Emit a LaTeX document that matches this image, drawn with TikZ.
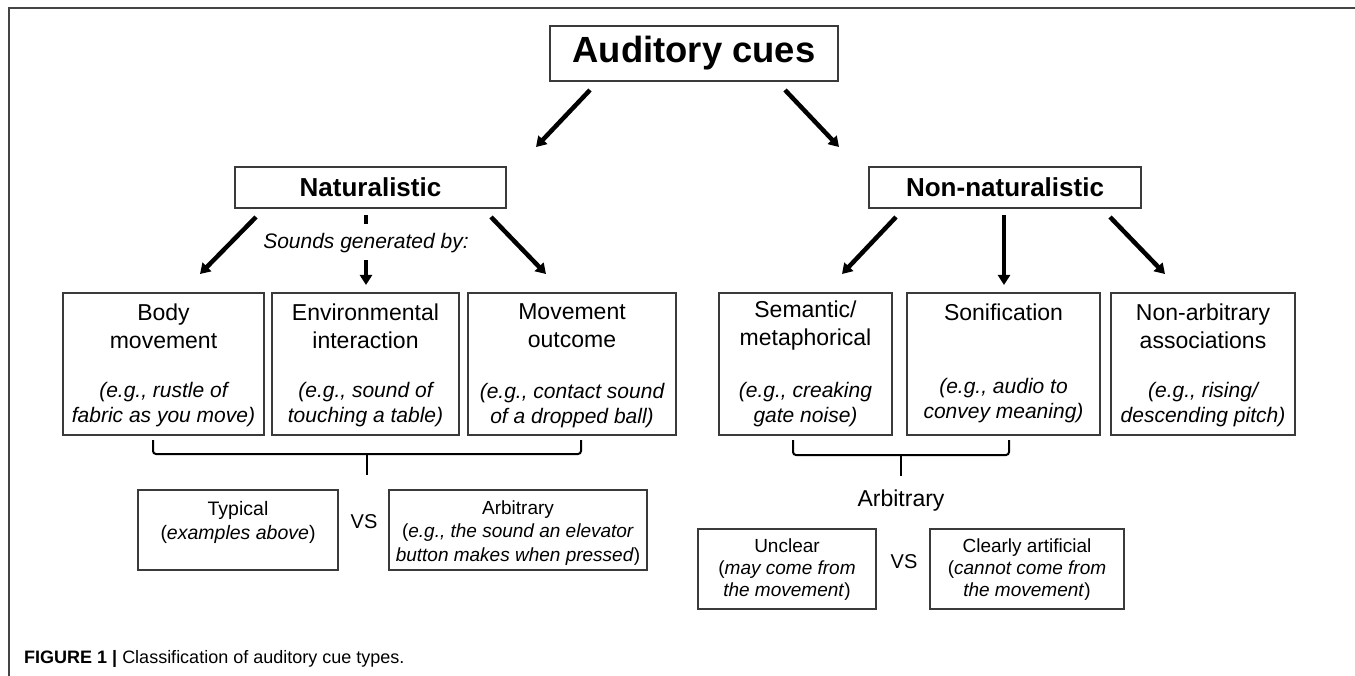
\documentclass[tikz,border=0pt]{standalone}
\usepackage{fontspec}
\setmainfont{Liberation Sans}
\usetikzlibrary{arrows.meta}
\definecolor{boxgray}{HTML}{3A3A3A}
\definecolor{framec}{HTML}{444444}
\begin{document}
\begin{tikzpicture}[x=1pt,y=-1pt,
  box/.style={draw=boxgray,line width=1.3pt,inner sep=0pt,fill=white},
  arr/.style={line width=4.5pt,-{Triangle[length=10pt,width=12pt]}},
  stub/.style={line width=4.5pt},
  brace/.style={line width=2pt,rounded corners=3pt},
  hd/.style={font=\fontsize{23pt}{28pt}\selectfont,align=center,inner sep=0pt},
  eg/.style={font=\fontsize{21pt}{25pt}\selectfont\itshape,align=center,inner sep=0pt},
  sm/.style={font=\fontsize{19.5pt}{24pt}\selectfont,align=center,inner sep=0pt},
  xs/.style={font=\fontsize{19pt}{22pt}\selectfont,align=center,inner sep=0pt},
  big/.style={font=\fontsize{26pt}{30pt}\selectfont\bfseries}]
\useasboundingbox (0,0) rectangle (1355,676);
\draw[framec,line width=2pt] (8.5,676) -- (8.5,8.5) -- (1355,8.5);

% top
\node[box,minimum width=288pt,minimum height=55pt,font=\fontsize{36.4pt}{40pt}\selectfont\bfseries] (ac) at (694,53.5) {Auditory cues};
\node[box,minimum width=271pt,minimum height=41pt,big] (nat) at (370.5,187.5) {Naturalistic};
\node[box,minimum width=272pt,minimum height=41pt,big] (non) at (1005,187.5) {Non-naturalistic};

% row boxes
\node[box,minimum width=201pt,minimum height=142pt] (body) at (163.5,364) {};
\node[box,minimum width=187pt,minimum height=142pt] (env) at (365.5,364) {};
\node[box,minimum width=208pt,minimum height=142pt] (mov) at (572,364) {};
\node[box,minimum width=173pt,minimum height=142pt] (sem) at (805.5,364) {};
\node[box,minimum width=193pt,minimum height=142pt] (son) at (1003.5,364) {};
\node[box,minimum width=184pt,minimum height=142pt] (nar) at (1203,364) {};

\node[hd] (bodyh) at (163.5,326) {Body\\movement};
\node[hd] (envh) at (365.5,326) {Environmental\\interaction};
\node[hd] (movh) at (572,326) {Movement\\outcome};
\node[hd] (semh) at (805.5,326) {Semantic/\\metaphorical};
\node[hd] (sonh) at (1003.5,312) {Sonification};
\node[hd] (narh) at (1203,326) {Non-arbitrary\\associations};

\node[eg] (bodye) at (163.5,405) {(e.g., rustle of\\fabric as you move)};
\node[eg] (enve) at (365.5,405) {(e.g., sound of\\touching a table)};
\node[eg] (move) at (572,406) {(e.g., contact sound\\of a dropped ball)};
\node[eg] (seme) at (805.5,405) {(e.g., creaking\\gate noise)};
\node[eg] (sone) at (1003.5,401) {(e.g., audio to\\convey meaning)};
\node[eg] (nare) at (1203,405) {(e.g., rising/\\descending pitch)};

% sounds generated by
\node[font=\fontsize{21pt}{25pt}\selectfont\itshape,inner sep=0pt] (sgb) at (366,243.5) {Sounds generated by:};

% arrows
\coordinate (a1s) at (590,90);   \coordinate (a1e) at (536,147);
\coordinate (a2s) at (785,90);   \coordinate (a2e) at (839,147);
\draw[arr] (a1s) -- (a1e);
\draw[arr] (a2s) -- (a2e);

\coordinate (n1s) at (256,217);  \coordinate (n1e) at (200,274);
\coordinate (n2s) at (366,215);  \coordinate (n2m) at (366,224);
\coordinate (n2t) at (366,260);  \coordinate (n2e) at (366,285);
\coordinate (n3s) at (491,217);  \coordinate (n3e) at (546,274);
\draw[arr] (n1s) -- (n1e);
\draw[stub] (n2s) -- (n2m);
\draw[arr] (n2t) -- (n2e);
\draw[arr] (n3s) -- (n3e);

\coordinate (m1s) at (896,217);  \coordinate (m1e) at (842,274);
\coordinate (m2s) at (1004,215); \coordinate (m2e) at (1004,285);
\coordinate (m3s) at (1110,217); \coordinate (m3e) at (1165,274);
\draw[arr] (m1s) -- (m1e);
\draw[arr] (m2s) -- (m2e);
\draw[arr] (m3s) -- (m3e);

% braces
\coordinate (bl1) at (153,440); \coordinate (bl2) at (581,440);
\coordinate (blm) at (367,454); \coordinate (blt) at (367,475);
\draw[brace] (bl1) -- (153,454) -- (581,454) -- (bl2);
\draw[line width=2pt] (blm) -- (blt);
\coordinate (br1) at (793,440); \coordinate (br2) at (1009,440);
\coordinate (brm) at (901,455); \coordinate (brt) at (901,476);
\draw[brace] (br1) -- (793,455) -- (1009,455) -- (br2);
\draw[line width=2pt] (brm) -- (brt);

% bottom left
\node[box,minimum width=200pt,minimum height=80pt] (typ) at (238,530) {};
\node[sm] (typt) at (238,522.5) {Typical\\(\textit{examples above})};
\node[font=\fontsize{20pt}{24pt}\selectfont,inner sep=0pt] (vs1) at (364,522) {VS};
\node[box,minimum width=258pt,minimum height=80pt] (arb) at (518,530) {};
\node[xs,font=\fontsize{19pt}{23.5pt}\selectfont] (arbt) at (518,533) {Arbitrary\\(\textit{e.g., the sound an elevator}\\\textit{button makes when pressed})};

% bottom right
\node[font=\fontsize{23pt}{26pt}\selectfont,inner sep=0pt] (arbl) at (901,501) {Arbitrary};
\node[box,minimum width=178pt,minimum height=80pt] (unc) at (787,569) {};
\node[xs] (unct) at (787,569.5) {Unclear\\(\textit{may come from}\\\textit{the movement})};
\node[font=\fontsize{20pt}{24pt}\selectfont,inner sep=0pt] (vs2) at (904,562) {VS};
\node[box,minimum width=194pt,minimum height=80pt] (clr) at (1027,569) {};
\node[xs] (clrt) at (1027,569.5) {Clearly artificial\\(\textit{cannot come from}\\\textit{the movement})};

% caption
\node[anchor=base west,inner sep=0pt,font=\fontsize{18pt}{20pt}\selectfont] (cap) at (24,663) {\textbf{FIGURE 1 |} Classification of auditory cue types.};
\end{tikzpicture}
\end{document}
